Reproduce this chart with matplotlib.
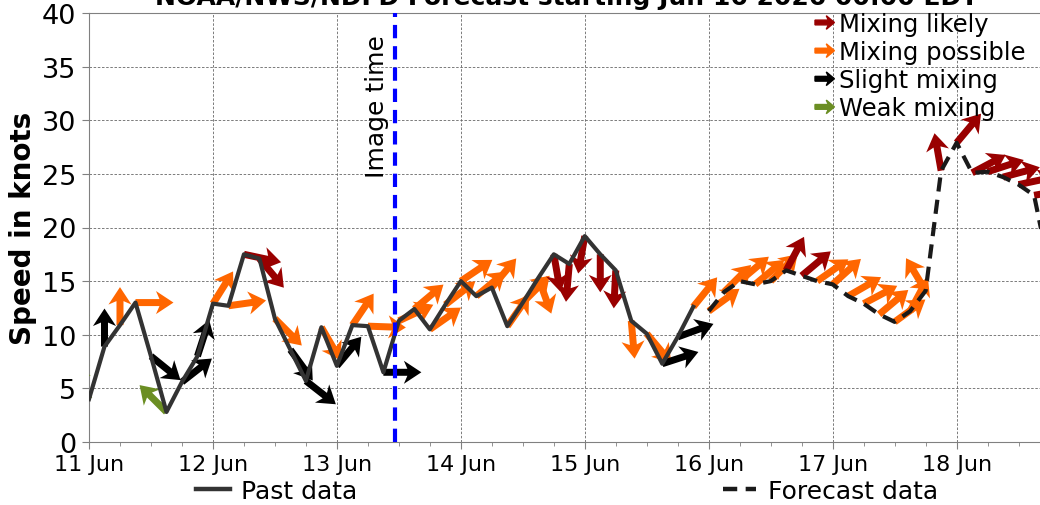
import matplotlib
matplotlib.use("Agg")
import matplotlib.pyplot as plt
import matplotlib.dates as mdates
import matplotlib.patches as mpatches
import matplotlib.transforms as mtransforms
from matplotlib.legend_handler import HandlerPatch
from matplotlib.lines import Line2D
import numpy as np
from datetime import datetime, timedelta

start = datetime(2026, 6, 11)
image_time = datetime(2026, 6, 13, 11, 15)
title = "NOAA/NWS/NDFD Forecast starting Jun 16 2026 00:00 EDT"

# hours after 11 Jun 00:00, speed (kt), arrow heading (deg, 0 = east, ccw), mixing class
past_hours = [0, 3, 6, 9, 12, 15, 18, 21, 24, 27, 30, 33, 36, 39, 42, 45, 48, 51,
              54, 57, 60, 63, 66, 69, 72, 75, 78, 81, 84, 87, 90, 93, 96, 99,
              102, 105, 108, 111, 114, 117]
past_speed = [4.0, 8.9, 10.9, 13.0, 8.0, 2.8, 5.6, 8.0, 12.9, 12.7, 17.5, 17.1,
              11.5, 8.6, 5.7, 10.7, 7.1, 10.9, 10.8, 6.5, 11.3, 12.4, 10.5, 12.8,
              15.0, 13.6, 14.4, 10.8, 13.0, 15.3, 17.5, 16.6, 19.2, 17.5, 16.0,
              11.3, 10.1, 7.3, 9.8, 12.6]
past_heading = [115, 90, 90, 0, -39, 135, 38, 72, 58, 8, -12, -50, -45, -54, -38,
                -60, 50, 56, -2, 0, 25, 40, 35, 38, 34, 40, 50, 55, 45, -70, -80,
                -95, -100, -90, -93, -85, -50, 18, 20, 51]
past_mixing = ["weak", "slight", "possible", "possible", "slight", "weak", "slight",
               "slight", "possible", "possible", "likely", "likely", "possible",
               "slight", "slight", "possible", "slight", "possible", "possible",
               "slight", "possible", "possible", "possible", "possible", "possible",
               "possible", "possible", "possible", "possible", "possible", "likely",
               "likely", "likely", "likely", "likely", "possible", "possible",
               "slight", "slight", "possible"]

fcst_hours = [120, 123, 126, 129, 132, 135, 138, 141, 144, 147, 150, 153, 156, 159,
              162, 165, 168, 171, 174, 177, 180, 183, 186]
fcst_speed = [12.2, 14.0, 15.0, 14.7, 15.0, 16.0, 15.5, 15.0, 14.7, 13.6, 12.9, 11.9,
              11.2, 12.2, 14.1, 25.3, 27.9, 25.1, 25.2, 24.7, 24.0, 23.0, 16.0]
fcst_heading = [36, 45, 40, 40, 45, 62, 40, 35, 42, 30, 28, 40, 36, 62, 121, 100,
                50, 28, 18, 15, 12, 10, 10]
fcst_mixing = ["possible", "possible", "possible", "possible", "possible", "likely",
               "likely", "possible", "possible", "possible", "possible", "possible",
               "possible", "possible", "possible", "likely", "likely", "likely",
               "likely", "likely", "likely", "likely", "likely"]

mix_labels = ["Mixing likely", "Mixing possible", "Slight mixing", "Weak mixing"]
mix_keys = ["likely", "possible", "slight", "weak"]
mix_colors = {"likely": "#990000", "possible": "#ff6600", "slight": "black",
              "weak": "olivedrab"}


class ArrowHandler(HandlerPatch):
    def create_artists(self, legend, orig_handle, xdescent, ydescent, width,
                       height, fontsize, trans):
        arrow = mpatches.FancyArrow(-xdescent, height / 2 - ydescent, width, 0,
                                    width=height * 0.28, head_width=height * 0.8,
                                    head_length=width * 0.42, overhang=0.25,
                                    length_includes_head=True)
        self.update_prop(arrow, orig_handle, legend)
        arrow.set_transform(trans)
        return [arrow]


def to_dates(hours):
    return [start + timedelta(hours=h) for h in hours]


def draw_arrows(ax, hours, speed, heading, mixing):
    x = mdates.date2num(to_dates(hours))
    rad = np.radians(heading)
    u = np.cos(rad)
    v = np.sin(rad)
    colors = [mix_colors[m] for m in mixing]
    ax.quiver(x, speed, u, v, color=colors, angles="uv", scale_units="dots",
              scale=1 / 38.0, units="dots", width=7, headwidth=3.3,
              headlength=2.5, headaxislength=2.0, zorder=3)


fig = plt.figure(figsize=(10.4, 5.06), dpi=100)
ax = fig.add_axes([89 / 1040, 63 / 506, 958 / 1040, 429 / 506])

draw_arrows(ax, past_hours, past_speed, past_heading, past_mixing)
draw_arrows(ax, fcst_hours, fcst_speed, fcst_heading, fcst_mixing)

ax.plot(to_dates(past_hours), past_speed, color="#333333", lw=3.0, zorder=4)
ax.plot(to_dates(fcst_hours), fcst_speed, color="#1a1a1a", lw=3.0,
        dashes=(3.4, 2.0), zorder=4)

ax.axvline(image_time, color="blue", lw=3, dashes=(3.2, 1.9), zorder=5)
off = mtransforms.offset_copy(ax.transData, fig=fig, x=-6, y=0, units="dots")
ax.text(image_time, 24.7, "Image time", rotation=90, ha="right", va="bottom",
        fontsize=18, transform=off)

ax.set_xlim(start, start + timedelta(hours=185.5))
ax.set_ylim(0, 40)
ax.set_yticks(np.arange(0, 41, 5))
ax.xaxis.set_major_locator(mdates.DayLocator())
ax.xaxis.set_minor_locator(mdates.HourLocator(byhour=[6, 12, 18]))
ax.xaxis.set_major_formatter(mdates.DateFormatter("%d %b"))
ax.tick_params(axis="x", which="major", labelsize=16, length=5, pad=4,
               color="#808080")
ax.tick_params(axis="x", which="minor", length=3, color="#808080")
ax.tick_params(axis="y", labelsize=19.5, length=5, pad=4, color="#808080")
for s in ax.spines.values():
    s.set_color("#808080")
ax.grid(True, which="major", color="#666666", ls="--", lw=0.6, dashes=(3, 2))
ax.set_axisbelow(True)
ax.set_ylabel("Speed in knots", fontsize=20, fontweight="bold", labelpad=3.5)

fig.text(567 / 1040, 1 - 5 / 506, title, ha="center", va="baseline",
         fontsize=18, fontweight="bold")

mix_handles = [mpatches.Patch(color=mix_colors[k]) for k in mix_keys]
fig.legend(mix_handles, mix_labels, loc="upper left",
           bbox_to_anchor=(815 / 1040, 1 - 13 / 506), frameon=False,
           fontsize=17.5, borderpad=0, borderaxespad=0, handlelength=0.8,
           handletextpad=0.2, labelspacing=0.17,
           handler_map={mpatches.Patch: ArrowHandler()})

line_handles = [Line2D([], [], color="#333333", lw=3.2),
                Line2D([], [], color="#1a1a1a", lw=3.2, dashes=(3.2, 1.9))]
fig.legend(line_handles, ["Past data", "Forecast data"], loc="center",
           bbox_to_anchor=(567 / 1040, 1 - 492 / 506), ncol=2, frameon=False,
           fontsize=18, handlelength=1.35, handletextpad=0.45,
           columnspacing=14.6, borderpad=0, borderaxespad=0)

fig.savefig("out.png", dpi=100)
